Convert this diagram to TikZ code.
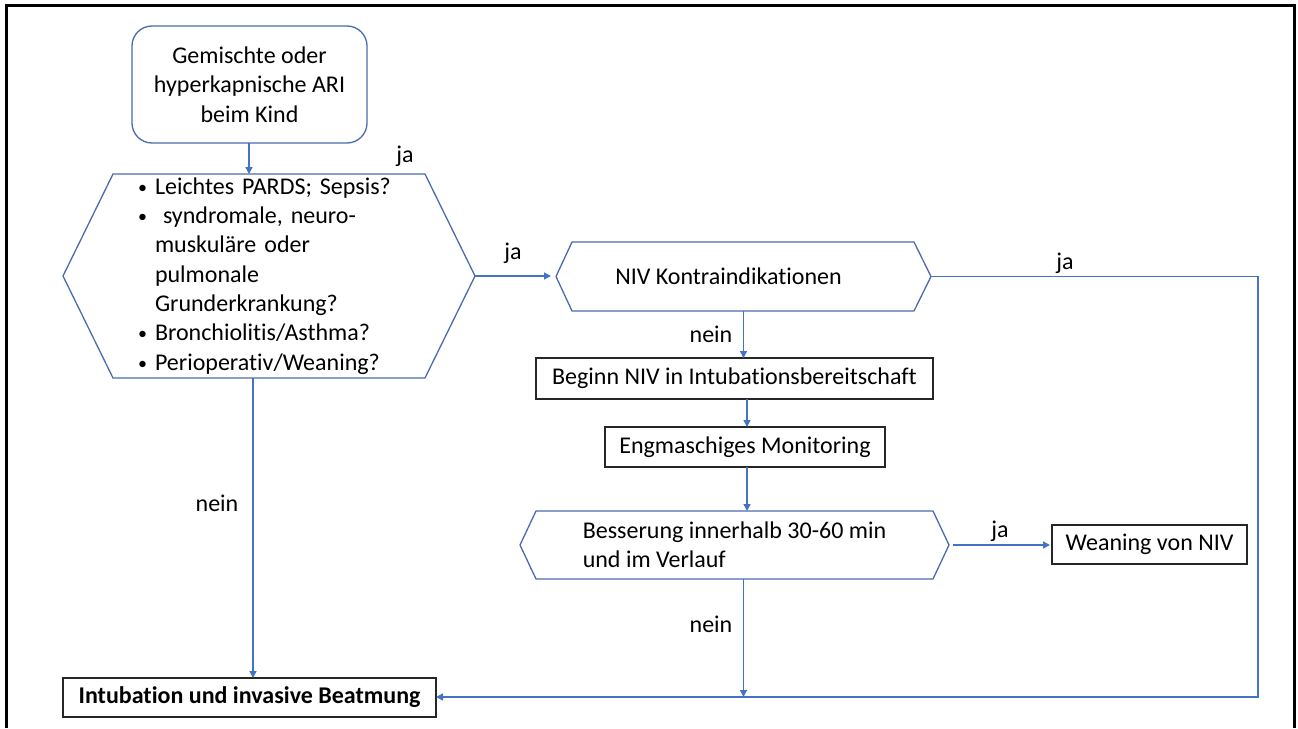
\documentclass[tikz,border=0pt]{standalone}
\usepackage{fontspec}
\setmainfont{Carlito}[Ligatures={NoCommon,NoContextual}]
\usetikzlibrary{arrows.meta,calc}
\definecolor{arrowblue}{HTML}{4472C4}
\definecolor{shapeblue}{HTML}{4A6BAE}
\newcommand{\mybul}{\makebox[17pt][l]{\raisebox{1pt}{\scalebox{0.75}{•}}}}
\begin{document}
\begin{tikzpicture}[x=1pt,y=-1pt,
  every node/.style={font=\fontsize{24}{29.3}\selectfont, inner sep=0pt, outer sep=0pt},
  startbox/.style={draw=shapeblue, line width=1.3pt, rounded corners=20pt, minimum width=235pt, minimum height=117pt, align=center},
  hexnode/.style={align=left},
  hexline/.style={draw=shapeblue, line width=1.3pt},
  plainbox/.style={draw=black!85, line width=1.2pt, minimum height=40pt},
  conn/.style={draw=arrowblue, line width=1.4pt, -{Triangle[width=7pt,length=7pt]}},
  frameline/.style={draw=black, line width=2.5pt},
  lab/.style={}
]
\useasboundingbox (0,0) rectangle (1298,728);
\draw[frameline] (6.5,728) -- (6.5,5.5) -- (1294.5,5.5) -- (1294.5,728);

% nodes
\node[startbox] (start) at (249.5,84.5) {Gemischte oder\\hyperkapnische ARI\\beim Kind};

\node[hexnode, minimum width=412pt, minimum height=204pt, text width=262pt] (q1) at (269,276)
{\mybul Leichtes PARDS; Sepsis?\\
\mybul\ syndromale, neuro-\\
\hspace*{17pt}muskuläre oder\\
\hspace*{17pt}pulmonale\\
\hspace*{17pt}Grunderkrankung?\\
\mybul Bronchiolitis/Asthma?\\
\mybul Perioperativ/Weaning?};
\draw[hexline] (q1.west) -- ([xshift=50pt]q1.north west) -- ([xshift=-50pt]q1.north east) -- (q1.east) -- ([xshift=-50pt]q1.south east) -- ([xshift=50pt]q1.south west) -- cycle;

\node[hexnode, minimum width=375pt, minimum height=69pt] (q2) at (743.5,276.5) {NIV Kontraindikationen\hspace*{30pt}};
\draw[hexline] (q2.west) -- ([xshift=16pt]q2.north west) -- ([xshift=-17pt]q2.north east) -- (q2.east) -- ([xshift=-17pt]q2.south east) -- ([xshift=16pt]q2.south west) -- cycle;

\node[plainbox, minimum width=397pt, minimum height=41pt] (beginn) at (734.5,378.5) {Beginn NIV in Intubationsbereitschaft};
\node[plainbox, minimum width=280pt, minimum height=40pt] (monitor) at (745,447) {Engmaschiges Monitoring};

\node[hexnode, minimum width=429pt, minimum height=68pt] (q3) at (734.5,545) {Besserung innerhalb 30-60 min\\und im Verlauf};
\draw[hexline] (q3.west) -- ([xshift=16pt]q3.north west) -- ([xshift=-16pt]q3.north east) -- (q3.east) -- ([xshift=-16pt]q3.south east) -- ([xshift=16pt]q3.south west) -- cycle;

\node[plainbox, minimum width=195pt, minimum height=39pt] (weaning) at (1149.5,544.5) {Weaning von NIV};
\node[plainbox, minimum width=373pt, minimum height=39pt, font=\fontsize{24}{29.3}\selectfont\bfseries] (intub) at (249.5,697.5) {Intubation und invasive Beatmung};

\coordinate (cR) at (1258,697);
\coordinate (cL) at (253,697);

% connectors
\draw[conn] ([xshift=-0.5pt]start.south) -- ([xshift=-0.5pt]start.south |- q1.north);
\draw[conn, shorten >=5pt] (q1.east) -- (q1.east -| q2.west);
\draw[conn] (q2.east) -- (q2.east -| cR) -- (cR) -- (cR -| intub.east);
\draw[conn] (q2.south) -- (q2.south |- beginn.north);
\draw[conn] ([xshift=2pt]monitor.north |- beginn.south) -- ([xshift=2pt]monitor.north);
\draw[conn] ([xshift=2pt]monitor.south) -- ([xshift=2pt]monitor.south |- q3.north);
\draw[conn, shorten <=4pt, shorten >=2pt] (q3.east) -- (q3.east -| weaning.west);
\draw[conn] (q2.south |- q3.south) -- (q2.south |- cR);
\draw[conn] (cL |- q1.south) -- (cL |- intub.north);

% labels
\node[lab] (l1) at (405,156) {ja};
\node[lab] (l2) at (513,253) {ja};
\node[lab] (l3) at (1065,263) {ja};
\node[lab] (l4) at (711,334) {nein};
\node[lab] (l5) at (217,503) {nein};
\node[lab] (l6) at (1000,531) {ja};
\node[lab] (l7) at (711,624) {nein};
\end{tikzpicture}
\end{document}
